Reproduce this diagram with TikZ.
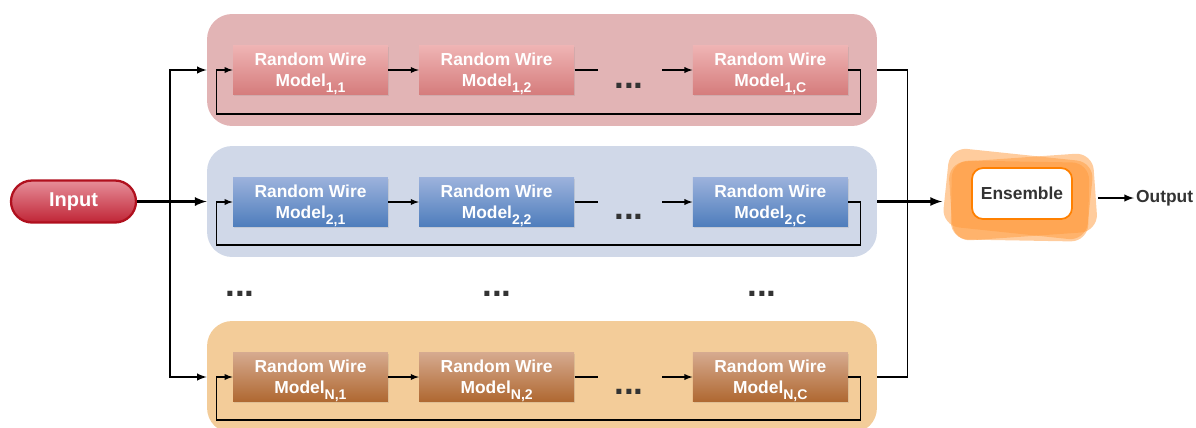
\documentclass[tikz,border=0pt]{standalone}
\usepackage{fontspec}
\setmainfont{Liberation Sans}
\usetikzlibrary{positioning}
\usetikzlibrary{calc}
\usetikzlibrary{arrows}
\usetikzlibrary{shadows}
\definecolor{redgroup}{HTML}{E2B4B5}
\definecolor{bluegroup}{HTML}{D0D8E8}
\definecolor{orangegroup}{HTML}{F3CC99}
\definecolor{redtop}{HTML}{EFB4B4}
\definecolor{redbottom}{HTML}{D57C7C}
\definecolor{bluetop}{HTML}{9CB2DC}
\definecolor{bluebottom}{HTML}{4E7DBC}
\definecolor{browntop}{HTML}{D6AA8F}
\definecolor{brownbottom}{HTML}{AF6831}
\definecolor{inputtop}{HTML}{E68E99}
\definecolor{inputbottom}{HTML}{C02536}
\definecolor{inputline}{HTML}{B0101E}
\definecolor{enslight}{HTML}{FF9A3C}
\definecolor{ensline}{HTML}{FF8000}
\definecolor{darktext}{HTML}{333333}
\newcommand{\modelidx}[1]{\raisebox{-3.4pt}[\height][0pt]{\fontsize{8}{8}\selectfont #1}}
\tikzset{>=latex}
\tikzset{rowgroup/.style={rectangle, rounded corners=0.5cm, fill=#1, minimum width=13.4cm, minimum height=2.24cm}}
\tikzset{model/.style={rectangle, minimum width=3.1cm, minimum height=0.98cm, inner sep=0pt, align=center, text=white, font=\fontsize{9.9}{11.9}\selectfont\bfseries, drop shadow={opacity=0.18, shadow xshift=0.6pt, shadow yshift=-0.8pt}}}
\tikzset{redmodel/.style={model, top color=redtop, bottom color=redbottom}}
\tikzset{bluemodel/.style={model, top color=bluetop, bottom color=bluebottom}}
\tikzset{brownmodel/.style={model, top color=browntop, bottom color=brownbottom}}
\tikzset{dotrow/.style={font=\fontsize{20}{20}\selectfont\bfseries, text=darktext, anchor=base, inner sep=0pt}}
\tikzset{link/.style={line width=0.6pt}}
\tikzset{feed/.style={line width=0.9pt}}
\tikzset{inputnode/.style={rectangle, rounded corners=0.42cm, minimum width=2.5cm, minimum height=0.84cm, top color=inputtop, bottom color=inputbottom, draw=inputline, line width=1.3pt, text=white, font=\fontsize{11.4}{13}\selectfont\bfseries}}
\tikzset{ensback/.style={rectangle, rounded corners=0.35cm, minimum width=2.9cm, minimum height=1.58cm, fill=enslight, fill opacity=0.5}}
\tikzset{ensemble/.style={rectangle, rounded corners=0.22cm, minimum width=2cm, minimum height=1.02cm, fill=white, draw=ensline, line width=1pt, text=darktext, font=\fontsize{9.9}{11.9}\selectfont\bfseries}}

\begin{document}
\begin{tikzpicture}[x=0.02cm, y=-0.02cm]
    \useasboundingbox (0,0) rectangle (1196,427);

    % Row backgrounds.
    \node [rowgroup=redgroup] (g1) at (542,70) {};
    \node [rowgroup=bluegroup, minimum height=2.22cm] (g2) at (542,201.5) {};
    \node [rowgroup=orangegroup] (gN) at (542,377) {};

    % First row.
    \node [redmodel] (m11) at (310.5,70) {Random Wire\\Model\modelidx{1,1}};
    \node [redmodel, right=0.61cm of m11] (m12) {Random Wire\\Model\modelidx{1,2}};
    \node [redmodel, right=2.36cm of m12] (m1C) {Random Wire\\Model\modelidx{1,C}};
    \node [dotrow] (d1) at (629,88) {...};

    % Second row.
    \node [bluemodel] (m21) at (310.5,202) {Random Wire\\Model\modelidx{2,1}};
    \node [bluemodel, right=0.61cm of m21] (m22) {Random Wire\\Model\modelidx{2,2}};
    \node [bluemodel, right=2.36cm of m22] (m2C) {Random Wire\\Model\modelidx{2,C}};
    \node [dotrow] (d2) at (629,219) {...};

    % Last row.
    \node [brownmodel] (mN1) at (310.5,377) {Random Wire\\Model\modelidx{N,1}};
    \node [brownmodel, right=0.61cm of mN1] (mN2) {Random Wire\\Model\modelidx{N,2}};
    \node [brownmodel, right=2.36cm of mN2] (mNC) {Random Wire\\Model\modelidx{N,C}};
    \node [dotrow] (dN) at (629,394) {...};

    % Dots between the rows.
    \node [dotrow] (v1) at (240,296) {...};
    \node [dotrow] (v2) at (497,296) {...};
    \node [dotrow] (v3) at (762,296) {...};

    % Coordinates for the loose line ends.
    \coordinate (s1) at ($(m12.east)+(23,0)$);
    \coordinate (t1) at ($(m1C.west)+(-30,0)$);
    \coordinate (b1) at ($(m11.west)+(-16,44)$);
    \coordinate (s2) at ($(m22.east)+(23,0)$);
    \coordinate (t2) at ($(m2C.west)+(-30,0)$);
    \coordinate (b2) at ($(m21.west)+(-16,43)$);
    \coordinate (sN) at ($(mN2.east)+(23,0)$);
    \coordinate (tN) at ($(mNC.west)+(-30,0)$);
    \coordinate (bN) at ($(mN1.west)+(-16,43)$);

    % Lines inside the rows.
    \draw [link,->] (m11) -- (m12);
    \draw [link] (m12) -- (s1);
    \draw [link,->] (t1) -- (m1C);
    \draw [link,->] (m1C.east) -- ++(12,0) |- (b1) |- (m11.west);
    \draw [link,->] (m21) -- (m22);
    \draw [link] (m22) -- (s2);
    \draw [link,->] (t2) -- (m2C);
    \draw [link,->] (m2C.east) -- ++(12,0) |- (b2) |- (m21.west);
    \draw [link,->] (mN1) -- (mN2);
    \draw [link] (mN2) -- (sN);
    \draw [link,->] (tN) -- (mNC);
    \draw [link,->] (mNC.east) -- ++(12,0) |- (bN) |- (mN1.west);

    % Input to the rows.
    \node [inputnode] (input) at (73.5,201.5) {Input};
    \coordinate (split) at (170,201.5);
    \draw [line width=1.3pt,->] (input) -- (g2.west);
    \draw [feed,->] (split) |- (g1.west);
    \draw [feed,->] (split) |- (gN.west);

    % Ensemble and output.
    \node [minimum width=3.1cm, minimum height=1.76cm, inner sep=0pt] (ensbox) at (1020,197) {};
    \node [ensback, rotate=-6] (ensA) at ($(ensbox)+(-2,-3)$) {};
    \node [ensback, rotate=4] (ensB) at ($(ensbox)+(3,0)$) {};
    \node [ensback, minimum width=2.75cm, rotate=-1] (ensC) at ($(ensbox)+(0,4)$) {};
    \node [ensemble] (ens) at (1022,193.5) {Ensemble};
    \node [anchor=west, inner sep=1pt, text=darktext, font=\fontsize{9.9}{11.9}\selectfont\bfseries] (out) at (1134,198) {Output};

    \coordinate (join) at ($(g1.east)+(30,0)$);
    \draw [feed] (g1.east) -- (join) |- (gN.east);
    \draw [line width=1.3pt,->] (g2.east) -- (ensbox.west |- g2.east);
    \draw [feed,->] (ensbox.east |- out.west) -- (out.west);

\end{tikzpicture}
\end{document}
